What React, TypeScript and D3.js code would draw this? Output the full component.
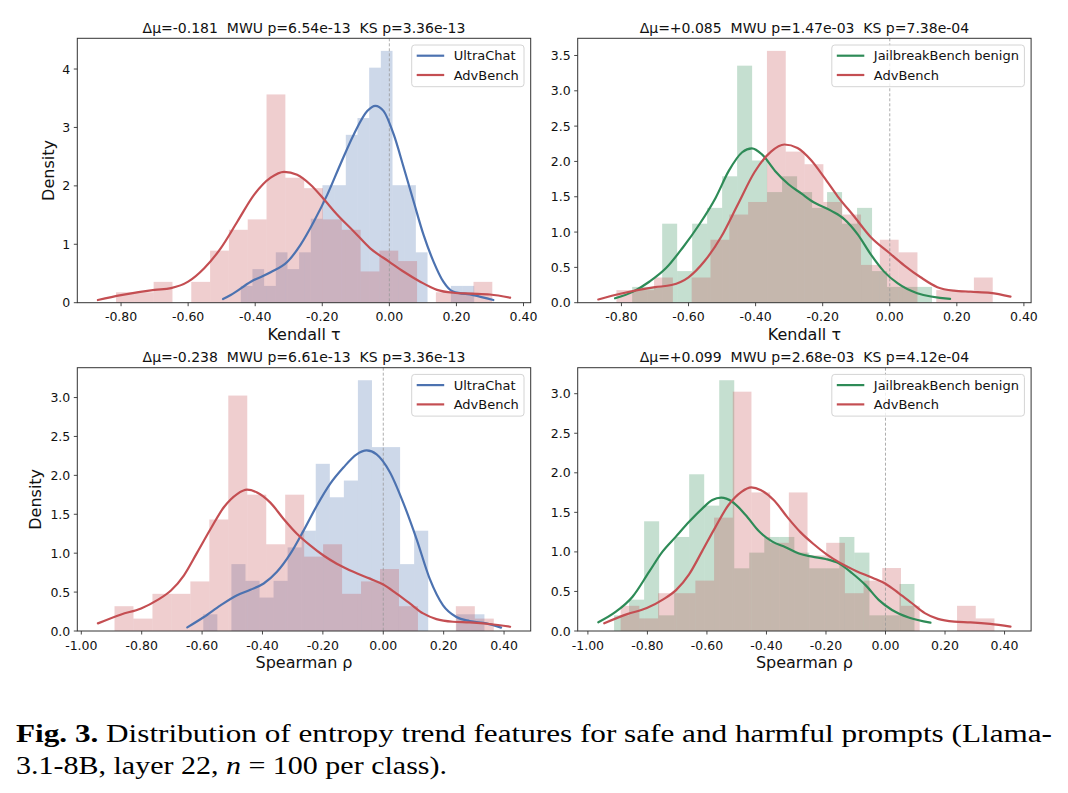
import * as d3 from 'd3';

type Pt = [number, number];

const N_PER_CLASS = 100;
const BLUE = '#4c72b0';
const RED = '#c44e52';
const GREEN = '#2e8b57';

// Kendall tau, AdvBench (same sample in both top panels)
const kendallAdvRange: Pt = [-0.815, 0.307];
const kendallAdvCounts = [1, 1, 2, 0, 2, 5, 7, 8, 20, 12, 11, 8, 7, 3, 5, 4, 0, 1, 1, 2];
const kendallAdvKde: Pt[] = [
  [-0.869, 0.046], [-0.8, 0.13], [-0.7, 0.22], [-0.651, 0.25], [-0.6, 0.36], [-0.552, 0.59],
  [-0.503, 0.93], [-0.453, 1.39], [-0.403, 1.85], [-0.354, 2.14], [-0.314, 2.24], [-0.275, 2.19],
  [-0.235, 2.02], [-0.195, 1.77], [-0.156, 1.51], [-0.106, 1.22], [-0.057, 0.93], [0, 0.7],
  [0.043, 0.53], [0.092, 0.36], [0.142, 0.22], [0.191, 0.17], [0.241, 0.155], [0.3, 0.14], [0.36, 0.086],
];

// Kendall tau, UltraChat
const kendallUltraRange: Pt = [-0.443, 0.253];
const kendallUltraCounts = [1, 2, 1, 3, 2, 3, 5, 7, 7, 10, 11, 14, 15, 7, 7, 3, 0, 0, 1, 1];
const kendallUltraKde: Pt[] = [
  [-0.496, 0.063], [-0.473, 0.132], [-0.413, 0.36], [-0.354, 0.52], [-0.304, 0.7], [-0.265, 0.99],
  [-0.225, 1.39], [-0.185, 1.85], [-0.146, 2.37], [-0.106, 2.88], [-0.066, 3.28], [-0.042, 3.37],
  [-0.017, 3.28], [0.013, 2.88], [0.043, 2.31], [0.072, 1.74], [0.102, 1.16], [0.132, 0.7],
  [0.161, 0.36], [0.19, 0.19], [0.25, 0.13], [0.31, 0.046],
];

// Kendall tau, JailbreakBench benign
const kendallJbbRange: Pt = [-0.768, 0.126];
const kendallJbbCounts = [1, 1, 5, 2, 5, 6, 8, 15, 9, 7, 8, 7, 6, 7, 5, 6, 2, 1, 1, 1];
const kendallJbbKde: Pt[] = [
  [-0.819, 0.062], [-0.765, 0.157], [-0.716, 0.3], [-0.667, 0.49], [-0.618, 0.775], [-0.568, 1.107],
  [-0.519, 1.487], [-0.48, 1.866], [-0.44, 2.13], [-0.411, 2.185], [-0.381, 2.1], [-0.342, 1.866],
  [-0.302, 1.677], [-0.263, 1.544], [-0.233, 1.44], [-0.174, 1.3], [-0.135, 1.18], [-0.095, 0.964],
  [-0.056, 0.68], [-0.017, 0.44], [0.023, 0.276], [0.082, 0.134], [0.18, 0.053],
];

// Spearman rho, AdvBench (same sample in both bottom panels)
const spearmanAdvRange: Pt = [-0.89, 0.366];
const spearmanAdvCounts = [2, 1, 3, 3, 4, 9, 19, 11, 7, 11, 6, 7, 3, 4, 5, 2, 0, 0, 2, 1];
const spearmanAdvKde: Pt[] = [
  [-0.945, 0.098], [-0.868, 0.213], [-0.802, 0.29], [-0.747, 0.4], [-0.703, 0.52], [-0.66, 0.716],
  [-0.616, 1.01], [-0.572, 1.31], [-0.528, 1.59], [-0.484, 1.76], [-0.451, 1.816], [-0.418, 1.78],
  [-0.374, 1.65], [-0.33, 1.44], [-0.286, 1.25], [-0.242, 1.1], [-0.198, 0.97], [-0.154, 0.865],
  [-0.099, 0.76], [-0.044, 0.673], [0, 0.597], [0.044, 0.48], [0.088, 0.354], [0.132, 0.226],
  [0.176, 0.153], [0.231, 0.119], [0.286, 0.11], [0.352, 0.09], [0.42, 0.055],
];

// Spearman rho, UltraChat
const spearmanUltraRange: Pt = [-0.596, 0.335];
const spearmanUltraCounts = [1, 0, 4, 3, 2, 3, 5, 6, 10, 8, 9, 15, 11, 11, 4, 6, 0, 0, 1, 1];
const spearmanUltraKde: Pt[] = [
  [-0.649, 0.047], [-0.594, 0.18], [-0.539, 0.33], [-0.484, 0.46], [-0.44, 0.53], [-0.396, 0.61],
  [-0.352, 0.76], [-0.308, 0.99], [-0.264, 1.29], [-0.22, 1.61], [-0.176, 1.89], [-0.132, 2.1],
  [-0.088, 2.27], [-0.055, 2.32], [-0.022, 2.27], [0.022, 2.04], [0.066, 1.65], [0.11, 1.185],
  [0.154, 0.67], [0.198, 0.33], [0.242, 0.18], [0.286, 0.128], [0.341, 0.098], [0.39, 0.043],
];

// Spearman rho, JailbreakBench benign
const spearmanJbbRange: Pt = [-0.912, 0.0974];
const spearmanJbbCounts = [1, 2, 7, 1, 6, 10, 8, 16, 4, 5, 6, 6, 5, 4, 4, 6, 5, 1, 1, 3];
const spearmanJbbKde: Pt[] = [
  [-0.965, 0.11], [-0.906, 0.244], [-0.85, 0.434], [-0.794, 0.75], [-0.75, 1.0], [-0.705, 1.19],
  [-0.66, 1.38], [-0.615, 1.55], [-0.582, 1.655], [-0.552, 1.685], [-0.515, 1.634], [-0.47, 1.466],
  [-0.425, 1.26], [-0.38, 1.13], [-0.336, 1.06], [-0.291, 0.98], [-0.246, 0.94], [-0.201, 0.91],
  [-0.157, 0.855], [-0.112, 0.73], [-0.067, 0.58], [-0.022, 0.39], [0.022, 0.265], [0.078, 0.17],
  [0.151, 0.105],
];

const kendallTicks = [-0.8, -0.6, -0.4, -0.2, 0, 0.2, 0.4];
const spearmanTicks = [-1, -0.8, -0.6, -0.4, -0.2, 0, 0.2, 0.4];
const densityTicksInt = [0, 1, 2, 3, 4];
const densityTicksTall = [0, 0.5, 1, 1.5, 2, 2.5, 3, 3.5];
const densityTicks = [0, 0.5, 1, 1.5, 2, 2.5, 3];

const titles = [
  'Δμ=-0.181  MWU p=6.54e-13  KS p=3.36e-13',
  'Δμ=+0.085  MWU p=1.47e-03  KS p=7.38e-04',
  'Δμ=-0.238  MWU p=6.61e-13  KS p=3.36e-13',
  'Δμ=+0.099  MWU p=2.68e-03  KS p=4.12e-04',
];

interface Series {
  label: string;
  color: string;
  range: Pt;
  counts: number[];
  kde: Pt[];
}

interface PanelProps {
  left: number;
  top: number;
  width: number;
  height: number;
  title: string;
  xLabel: string;
  yLabel?: string;
  yLabelGap?: number;
  xTicks: number[];
  yTicks: number[];
  yFormat: (v: number) => string;
  series: Series[];
  legendWidth: number;
}

const FONT = "'DejaVu Sans', sans-serif";

const Panel = (props: PanelProps) => {
  const { left, top, width, height, title, xLabel, yLabel, yLabelGap = 23, xTicks, yTicks, yFormat, series, legendWidth } =
    props;

  const bars = series.map((s) => {
    const [lo, hi] = s.range;
    const bw = (hi - lo) / s.counts.length;
    return s.counts.map((c, i) => ({ a: lo + i * bw, b: lo + (i + 1) * bw, d: c / (N_PER_CLASS * bw) }));
  });

  const xs = series.flatMap((s) => [...s.range, ...s.kde.map((p) => p[0])]);
  const [xmin, xmax] = d3.extent(xs) as [number, number];
  const pad = (xmax - xmin) * 0.05;
  const x = d3.scaleLinear([xmin - pad, xmax + pad], [left, left + width]);
  const ymax =
    (d3.max([...bars.flat().map((b) => b.d), ...series.flatMap((s) => s.kde.map((p) => p[1]))]) as number) * 1.05;
  const y = d3.scaleLinear([0, ymax], [top + height, top]);
  const line = d3
    .line<Pt>((p) => x(p[0]), (p) => y(p[1]))
    .curve(d3.curveMonotoneX);

  const lx = left + width - 6.7 - legendWidth;
  const ly = top + 6.7;

  return (
    <g>
      {bars.map((bs, si) => (
        <g key={si} fill={series[si].color} fillOpacity={0.28}>
          {bs.map((b, i) =>
            b.d > 0 ? (
              <rect key={i} x={x(b.a)} y={y(b.d)} width={x(b.b) - x(b.a)} height={y(0) - y(b.d)} />
            ) : null,
          )}
        </g>
      ))}
      <line x1={x(0)} x2={x(0)} y1={top} y2={top + height} stroke="#999" strokeWidth={0.8} strokeDasharray="3,2" />
      {series.map((s, si) => (
        <path key={si} d={line(s.kde) ?? ''} fill="none" stroke={s.color} strokeWidth={2.2} strokeLinecap="round" />
      ))}

      <rect x={left} y={top} width={width} height={height} fill="none" stroke="#333" strokeWidth={1} />

      <g fontFamily={FONT} fontSize={12.5} fill="#111">
        {xTicks.map((t) => (
          <g key={t}>
            <line x1={x(t)} x2={x(t)} y1={top + height} y2={top + height + 3.5} stroke="#333" strokeWidth={0.9} />
            <text x={x(t)} y={top + height + 18.6} textAnchor="middle">
              {t.toFixed(2)}
            </text>
          </g>
        ))}
        {yTicks.map((t) => (
          <g key={t}>
            <line x1={left - 3.5} x2={left} y1={y(t)} y2={y(t)} stroke="#333" strokeWidth={0.9} />
            <text x={left - 7} y={y(t)} dy="0.36em" textAnchor="end">
              {yFormat(t)}
            </text>
          </g>
        ))}
      </g>

      <text
        x={left + width / 2}
        y={top - 5.8}
        textAnchor="middle"
        fontFamily={FONT}
        fontSize={14}
        fill="#111"
        style={{ whiteSpace: 'pre' }}
      >
        {title}
      </text>
      <text x={left + width / 2} y={top + height + 37.3} textAnchor="middle" fontFamily={FONT} fontSize={16} fill="#111">
        {xLabel}
      </text>
      {yLabel ? (
        <text
          transform={`translate(${left - yLabelGap},${top + height / 2}) rotate(-90)`}
          textAnchor="middle"
          fontFamily={FONT}
          fontSize={16}
          fill="#111"
        >
          {yLabel}
        </text>
      ) : null}

      <g>
        <rect
          x={lx}
          y={ly}
          width={legendWidth}
          height={41.7}
          rx={3}
          fill="white"
          fillOpacity={0.8}
          stroke="#d4d4d4"
          strokeWidth={1}
        />
        {series.map((s, i) => (
          <g key={s.label}>
            <line
              x1={lx + 5}
              x2={lx + 32.5}
              y1={ly + 10.7 + i * 19.3}
              y2={ly + 10.7 + i * 19.3}
              stroke={s.color}
              strokeWidth={2.2}
            />
            <text x={lx + 42} y={ly + 10.7 + i * 19.3} dy="0.36em" fontFamily={FONT} fontSize={13} fill="#111">
              {s.label}
            </text>
          </g>
        ))}
      </g>
    </g>
  );
};

const fmtInt = (v: number) => d3.format('d')(v);
const fmt1 = (v: number) => v.toFixed(1);

export default function App() {
  const ultraK: Series = { label: 'UltraChat', color: BLUE, range: kendallUltraRange, counts: kendallUltraCounts, kde: kendallUltraKde };
  const advK: Series = { label: 'AdvBench', color: RED, range: kendallAdvRange, counts: kendallAdvCounts, kde: kendallAdvKde };
  const jbbK: Series = { label: 'JailbreakBench benign', color: GREEN, range: kendallJbbRange, counts: kendallJbbCounts, kde: kendallJbbKde };
  const ultraS: Series = { label: 'UltraChat', color: BLUE, range: spearmanUltraRange, counts: spearmanUltraCounts, kde: spearmanUltraKde };
  const advS: Series = { label: 'AdvBench', color: RED, range: spearmanAdvRange, counts: spearmanAdvCounts, kde: spearmanAdvKde };
  const jbbS: Series = { label: 'JailbreakBench benign', color: GREEN, range: spearmanJbbRange, counts: spearmanJbbCounts, kde: spearmanJbbKde };

  const w = 453.4;

  return (
    <svg width={1068} height={793} style={{ position: 'absolute', left: 0, top: 0, background: 'white' }}>
      <Panel left={77.3} top={38.3} width={w} height={264.4} title={titles[0]} xLabel="Kendall τ" yLabel="Density"
        xTicks={kendallTicks} yTicks={densityTicksInt} yFormat={fmtInt} series={[ultraK, advK]} legendWidth={112.3} />
      <Panel left={577.7} top={38.3} width={w} height={264.4} title={titles[1]} xLabel="Kendall τ"
        xTicks={kendallTicks} yTicks={densityTicksTall} yFormat={fmt1} series={[jbbK, advK]} legendWidth={192.6} />
      <Panel left={77.3} top={367.7} width={w} height={263.3} title={titles[2]} xLabel="Spearman ρ" yLabel="Density"
        yLabelGap={36} xTicks={spearmanTicks} yTicks={densityTicks} yFormat={fmt1} series={[ultraS, advS]}
        legendWidth={112.3} />
      <Panel left={577.7} top={367.7} width={w} height={263.3} title={titles[3]} xLabel="Spearman ρ"
        xTicks={spearmanTicks} yTicks={densityTicks} yFormat={fmt1} series={[jbbS, advS]} legendWidth={192.6} />

      <text x={16} y={742} fontFamily="'Liberation Serif', serif" fontSize={25} fill="#000"
        textLength={1036} lengthAdjust="spacingAndGlyphs">
        <tspan fontWeight="bold">Fig. 3.</tspan>
        {' Distribution of entropy trend features for safe and harmful prompts (Llama-'}
      </text>
      <text x={16} y={774} fontFamily="'Liberation Serif', serif" fontSize={25} fill="#000"
        textLength={431} lengthAdjust="spacingAndGlyphs">
        {'3.1-8B, layer 22, '}
        <tspan fontStyle="italic">n</tspan>
        {' = 100 per class).'}
      </text>
    </svg>
  );
}
